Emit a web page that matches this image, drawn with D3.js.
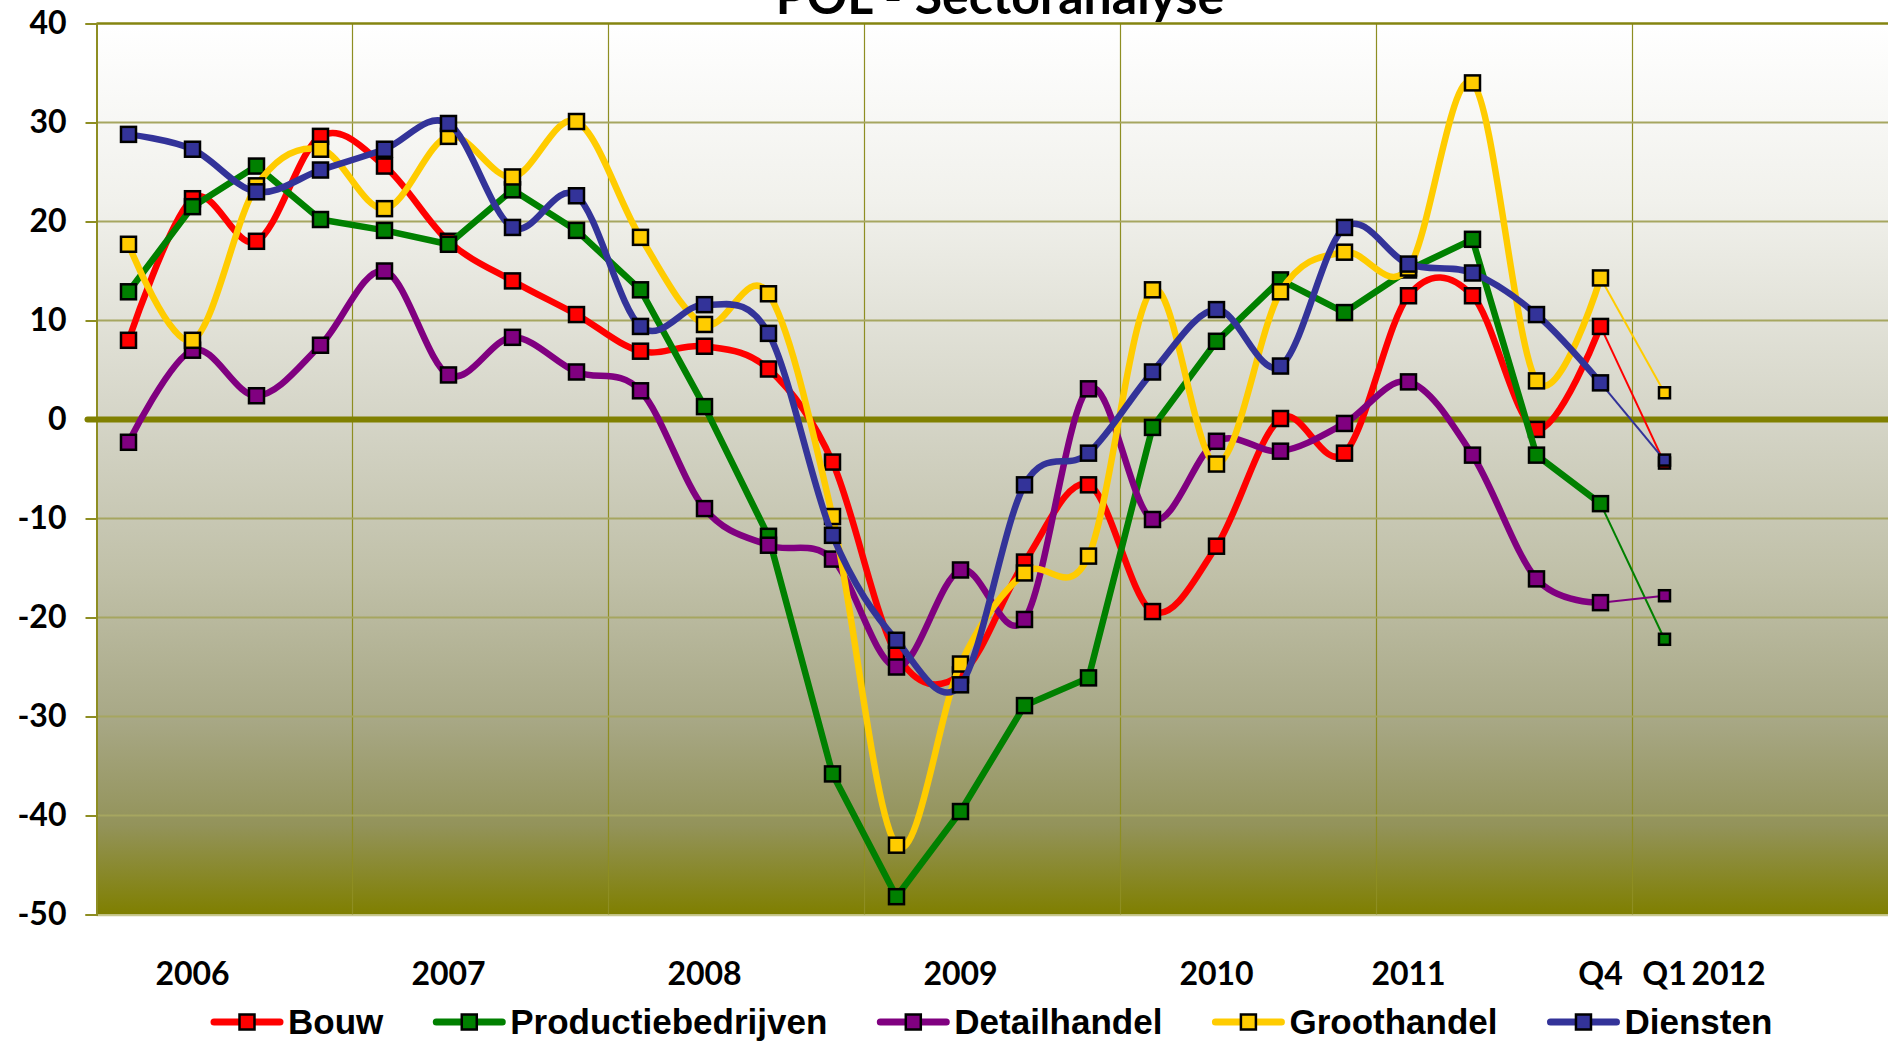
<!DOCTYPE html>
<html><head><meta charset="utf-8">
<script src="https://cdn.jsdelivr.net/npm/d3@7"></script>
<style>
html,body{margin:0;padding:0;background:#fff;}
svg{display:block;}
</style></head>
<body>
<svg id="chart" width="1888" height="1042"></svg>
<script>
// ---------- data ----------
const categoryLabels = ["", "2006", "", "", "", "2007", "", "", "", "2008", "", "", "", "2009", "", "", "", "2010", "", "", "2011", "", "", "Q4", "Q1", "2012", "", ""];
const yTicks = [40, 30, 20, 10, 0, -10, -20, -30, -40, -50];
const seriesNames = ["Bouw", "Productiebedrijven", "Detailhandel", "Groothandel", "Diensten"];
const seriesColors = ["#FF0000", "#008000", "#800080", "#FFCC00", "#333399"];
const seriesSmooth = [true, false, true, true, true];

const bouw = [8.0, 22.3, 18.0, 28.6, 25.6, 18.0, 14.0, 10.6, 6.9, 7.4, 5.1, -4.3, -23.7, -25.8, -14.4, -6.6, -19.4, -12.8, 0.1, -3.4, 12.5, 12.5, -1.0, 9.4, -4.4];
const productiebedrijven = [12.9, 21.5, 25.6, 20.2, 19.1, 17.7, 23.2, 19.1, 13.1, 1.3, -11.8, -35.8, -48.2, -39.6, -28.9, -26.1, -0.8, 7.9, 14.1, 10.8, 15.1, 18.2, -3.6, -8.5, -22.2];
const detailhandel = [-2.3, 7.0, 2.4, 7.5, 15.0, 4.5, 8.3, 4.8, 2.9, -9.0, -12.7, -14.1, -25.0, -15.2, -20.2, 3.1, -10.1, -2.2, -3.2, -0.4, 3.8, -3.6, -16.1, -18.5, -17.8];
const groothandel = [17.7, 8.0, 23.6, 27.3, 21.3, 28.6, 24.5, 30.1, 18.4, 9.6, 12.7, -9.8, -43.0, -24.7, -15.5, -13.8, 13.1, -4.5, 12.9, 16.9, 15.3, 34.0, 3.9, 14.3, 2.7];
const diensten = [28.8, 27.3, 23.0, 25.2, 27.3, 29.9, 19.4, 22.6, 9.4, 11.6, 8.7, -11.7, -22.3, -26.8, -6.6, -3.4, 4.8, 11.1, 5.4, 19.4, 15.7, 14.8, 10.6, 3.7, -4.1];
const seriesValues = [bouw, productiebedrijven, detailhandel, groothandel, diensten];

// ---------- layout ----------
const svg = d3.select("#chart");
const plotLeft = 96.5, plotRight = 1888.5, plotTop = 23.5, plotBottom = 914.5;

const x = d3.scaleBand().domain(d3.range(categoryLabels.length)).range([plotLeft, plotRight]).paddingInner(0).paddingOuter(0);
const xc = i => x(i) + x.bandwidth() / 2;
const y = d3.scaleLinear().domain([-50, 40]).range([plotBottom, plotTop]);

// gradient background
const defs = svg.append("defs");
const grad = defs.append("linearGradient").attr("id", "bg").attr("x1", 0).attr("y1", 0).attr("x2", 0).attr("y2", 1);
[[0, "#FFFFFF"], [0.2, "#F1F1EC"], [0.45, "#D4D4C6"], [0.62, "#C0C0A8"], [0.78, "#A8A886"], [0.9, "#93935A"], [1, "#7F7F00"]]
  .forEach(([o, c]) => grad.append("stop").attr("offset", o).attr("stop-color", c));

svg.append("rect").attr("x", plotLeft).attr("y", plotTop).attr("width", plotRight - plotLeft).attr("height", plotBottom - plotTop).attr("fill", "url(#bg)");

// vertical gridlines every 4 categories
const vIdx = d3.range(4, categoryLabels.length, 4);
svg.append("g").selectAll("line").data(vIdx).join("line")
  .attr("x1", d => x(d)).attr("x2", d => x(d))
  .attr("y1", plotTop).attr("y2", plotBottom)
  .attr("stroke", "#8E8E22").attr("stroke-width", 1.2);

// horizontal gridlines
svg.append("g").selectAll("line").data(yTicks.filter(t => t !== 0 && t !== 40 && t !== -50)).join("line")
  .attr("x1", plotLeft).attr("x2", plotRight)
  .attr("y1", d => y(d)).attr("y2", d => y(d))
  .attr("stroke", "#A6A660").attr("stroke-width", 2);

// top border
svg.append("line").attr("x1", plotLeft).attr("x2", plotRight).attr("y1", plotTop).attr("y2", plotTop)
  .attr("stroke", "#858510").attr("stroke-width", 2.5);
// bottom border
svg.append("line").attr("x1", plotLeft).attr("x2", plotRight).attr("y1", plotBottom + 1).attr("y2", plotBottom + 1)
  .attr("stroke", "#C8C890").attr("stroke-width", 1.5);

// y axis
const yAxis = d3.axisLeft(y).tickValues(yTicks).tickSize(11).tickPadding(19).tickFormat(d3.format("d"));
const yg = svg.append("g").attr("transform", `translate(${plotLeft},0)`).call(yAxis);
yg.select(".domain").attr("stroke", "#8E8E22").attr("stroke-width", 2);
yg.selectAll(".tick line").attr("stroke", "#8E8E22").attr("stroke-width", 2);
yg.selectAll(".tick text").attr("fill", "#000").attr("font-family", "Lato, 'Open Sans', sans-serif")
  .attr("font-weight", 700).attr("font-size", 32).text(d => d < 0 ? "-" + Math.abs(d) : d);

// zero line
svg.append("line").attr("x1", plotLeft - 9).attr("x2", plotRight).attr("y1", y(0)).attr("y2", y(0))
  .attr("stroke", "#808000").attr("stroke-width", 6).attr("stroke-linecap", "round");

// x labels
svg.append("g").selectAll("text").data(categoryLabels.map((l, i) => ({ l, i })).filter(d => d.l !== "")).join("text")
  .attr("x", d => xc(d.i)).attr("y", 985)
  .attr("text-anchor", "middle")
  .attr("font-family", "Lato, 'Open Sans', sans-serif").attr("font-weight", 700).attr("font-size", 32)
  .attr("fill", "#000").text(d => d.l);

// series
const nMain = 24; // indices 0..23 drawn thick
seriesValues.forEach((vals, s) => {
  const g = svg.append("g");
  const pts = vals.map((v, i) => [xc(i), y(v)]);
  const line = d3.line().curve(seriesSmooth[s] ? d3.curveCatmullRom.alpha(0) : d3.curveLinear);
  g.append("path").attr("d", line(pts.slice(0, nMain)))
    .attr("fill", "none").attr("stroke", seriesColors[s]).attr("stroke-width", 6.5)
    .attr("stroke-linejoin", "round").attr("stroke-linecap", "round");
  g.append("path").attr("d", d3.line()(pts.slice(nMain - 1)))
    .attr("fill", "none").attr("stroke", seriesColors[s]).attr("stroke-width", 2);
  g.selectAll("rect").data(pts).join("rect")
    .attr("x", (d, i) => d[0] - (i < nMain ? 7.5 : 5.5))
    .attr("y", (d, i) => d[1] - (i < nMain ? 7.5 : 5.5))
    .attr("width", (d, i) => i < nMain ? 15 : 11)
    .attr("height", (d, i) => i < nMain ? 15 : 11)
    .attr("fill", seriesColors[s]).attr("stroke", "#000").attr("stroke-width", 2.5);
});

// title (partly cut off at the top edge, as in the reference)
svg.append("text").attr("x", 1000).attr("y", 14).attr("text-anchor", "middle")
  .attr("font-family", "Lato, 'Open Sans', sans-serif").attr("font-weight", 700).attr("font-size", 50)
  .attr("fill", "#000").text("POL - Sectoranalyse");

// legend
const lg = svg.append("g");
let lx = 211;
const ly = 1022;
seriesNames.forEach((name, s) => {
  const item = lg.append("g");
  item.append("line").attr("x1", lx + 3).attr("x2", lx + 69).attr("y1", ly).attr("y2", ly)
    .attr("stroke", seriesColors[s]).attr("stroke-width", 7).attr("stroke-linecap", "round");
  item.append("rect").attr("x", lx + 36 - 7.5).attr("y", ly - 7.5).attr("width", 15).attr("height", 15)
    .attr("fill", seriesColors[s]).attr("stroke", "#000").attr("stroke-width", 2.5);
  const t = item.append("text").attr("x", lx + 77).attr("y", ly + 12)
    .attr("font-family", "'Liberation Sans', Arial, sans-serif").attr("font-weight", 700).attr("font-size", 35)
    .attr("fill", "#000").text(name);
  const w = t.node().getComputedTextLength();
  lx = lx + 77 + w + 50;
});
</script>
</body></html>
